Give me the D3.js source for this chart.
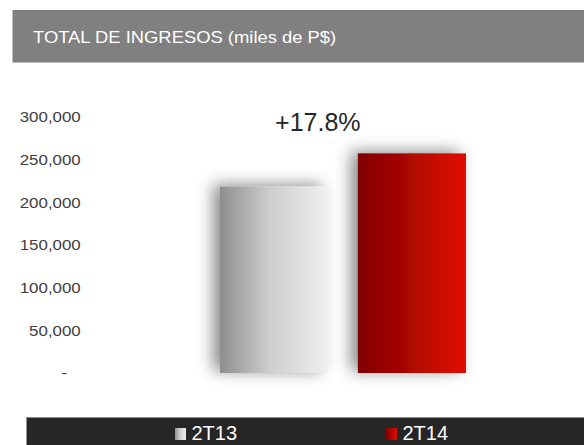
<!DOCTYPE html>
<html>
<head>
<meta charset="utf-8">
<script src="https://cdn.jsdelivr.net/npm/d3@7"></script>
<style>
  body { margin: 0; background: #fff; }
  svg { display: block; font-family: "Liberation Sans", Arial, sans-serif; }
  .y.axis text { fill: #404040; font-size: 15px; }
</style>
</head>
<body>
<script>
const periods = ["2T13", "2T14"];
const revenue = [218500, 257400];
const yTicks = [0, 50000, 100000, 150000, 200000, 250000, 300000];
const title = "TOTAL DE INGRESOS (miles de P$)";
const growthLabel = "+17.8%";

const width = 584,
      height = 445;

function createChart() {
    let svg = d3.select("body")
        .append("svg")
        .attr("width", width)
        .attr("height", height);

    let defs = svg.append("defs");

    let gGray = defs.append("linearGradient").attr("id", "gradGray");
    gGray.append("stop").attr("offset", "0%").attr("stop-color", "#8e8e8e");
    gGray.append("stop").attr("offset", "45%").attr("stop-color", "#cdcdcd");
    gGray.append("stop").attr("offset", "100%").attr("stop-color", "#f0f0f0");

    let gRed = defs.append("linearGradient").attr("id", "gradRed");
    gRed.append("stop").attr("offset", "0%").attr("stop-color", "#800000");
    gRed.append("stop").attr("offset", "100%").attr("stop-color", "#e00e00");

    let shadow = defs.append("filter").attr("id", "shadow")
        .attr("x", "-40%").attr("y", "-20%").attr("width", "160%").attr("height", "130%");
    shadow.append("feDropShadow")
        .attr("dx", -7).attr("dy", -2)
        .attr("stdDeviation", 8)
        .attr("flood-color", "#000")
        .attr("flood-opacity", 0.45);

    // header
    svg.append("rect")
        .attr("x", 12.5).attr("y", 10)
        .attr("width", width - 12.5).attr("height", 52.5)
        .attr("fill", "#808080");
    svg.append("text")
        .attr("transform", "translate(33,43.3) scale(1.15,1)")
        .attr("fill", "#fff")
        .attr("font-size", "16px")
        .text(title);

    let x = d3.scaleBand().range([220, 466]).paddingInner(0.215).paddingOuter(0);
    let y = d3.scaleLinear().range([373, 117]);
    x.domain(periods);
    y.domain([0, 300000]);

    let yAxis = d3.axisLeft().scale(y)
        .tickValues(yTicks)
        .tickSize(0)
        .tickPadding(0)
        .tickFormat(function (d) { return d === 0 ? "-" : d3.format(",")(d); });

    let ya = svg.append("g")
        .attr("class", "y axis")
        .attr("transform", "translate(80.7,0)")
        .call(yAxis);
    ya.select(".domain").remove();
    ya.selectAll("text").attr("transform", "scale(1.125,1)");
    ya.selectAll("text").filter(function (d) { return d === 0; }).attr("dx", "-12px");

    svg.selectAll(".bar")
        .data(periods)
        .enter()
        .append("rect")
        .attr("class", "bar")
        .attr("x", function (d) { return x(d); })
        .attr("y", function (d, i) { return y(revenue[i]); })
        .attr("width", x.bandwidth())
        .attr("height", function (d, i) { return y(0) - y(revenue[i]); })
        .attr("fill", function (d, i) { return i === 0 ? "url(#gradGray)" : "url(#gradRed)"; })
        .attr("filter", "url(#shadow)");

    svg.append("text")
        .attr("x", x(periods[0]) + x.step() * 0.71)
        .attr("y", 131)
        .attr("text-anchor", "middle")
        .attr("fill", "#262626")
        .attr("font-size", "25px")
        .text(growthLabel);

    // legend bar
    svg.append("rect")
        .attr("x", 26.5).attr("y", 417)
        .attr("width", width - 26.5).attr("height", height - 417)
        .attr("fill", "#262626");
    svg.append("line")
        .attr("x1", 26.5).attr("x2", width)
        .attr("y1", 417.5).attr("y2", 417.5)
        .attr("stroke", "#8a8a8a");

    let legendX = [175, 386];
    let leg = svg.selectAll(".legend")
        .data(periods)
        .enter()
        .append("g")
        .attr("class", "legend")
        .attr("transform", function (d, i) { return "translate(" + legendX[i] + ",0)"; });
    leg.append("rect")
        .attr("x", 0).attr("y", 428)
        .attr("width", 11).attr("height", 12)
        .attr("fill", function (d, i) { return i === 0 ? "url(#gradGray)" : "url(#gradRed)"; });
    leg.append("text")
        .attr("x", 16.5).attr("y", 440)
        .attr("fill", "#fff")
        .attr("font-size", "20px")
        .text(function (d) { return d; });
}

window.onload = createChart;
</script>
</body>
</html>
